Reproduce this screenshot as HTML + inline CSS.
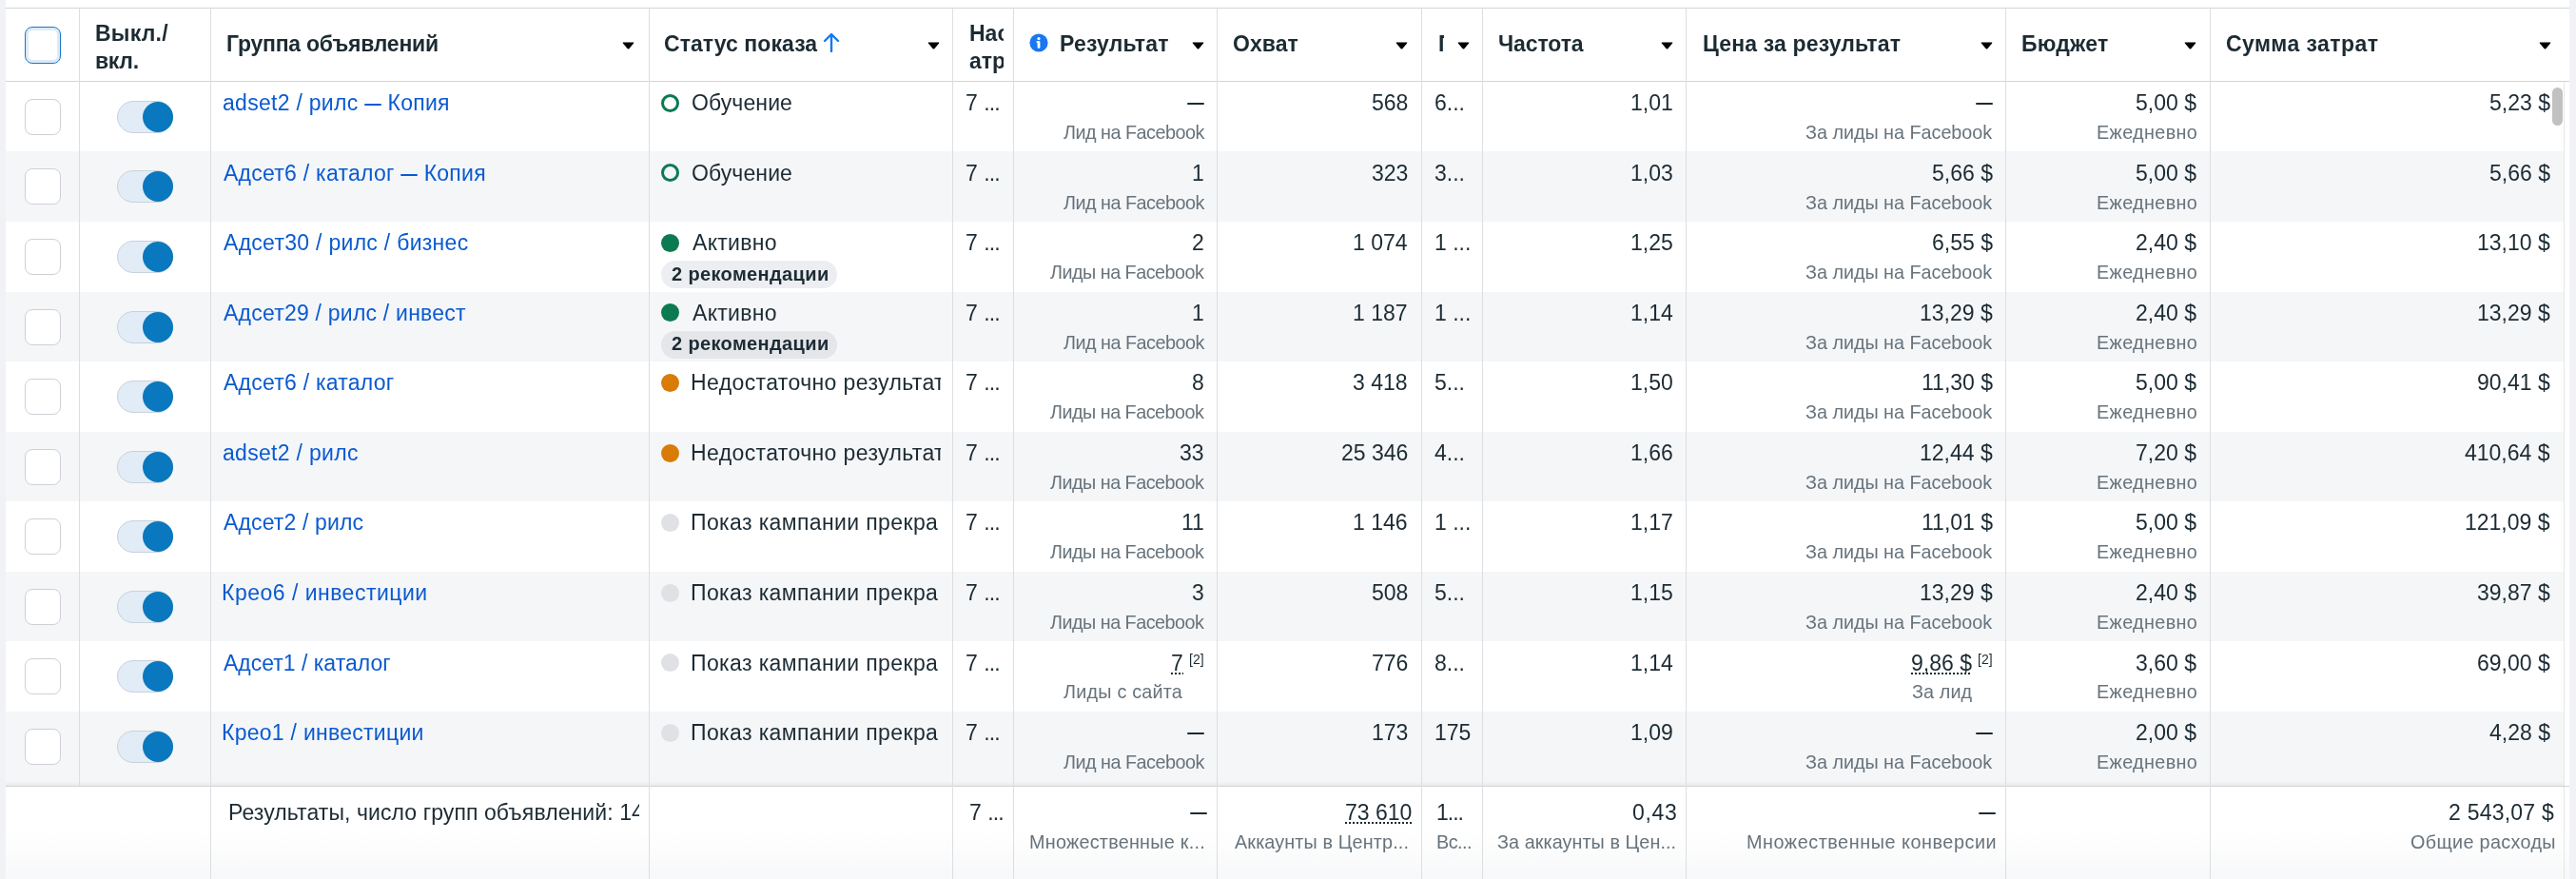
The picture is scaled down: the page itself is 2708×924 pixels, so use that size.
<!DOCTYPE html>
<html><head><meta charset="utf-8"><style>
html,body{margin:0;padding:0;}
body{width:2708px;height:924px;position:relative;overflow:hidden;background:#fff;font-family:"Liberation Sans", sans-serif;}
body>div,body>svg{position:absolute;}
.t{white-space:nowrap;will-change:transform;}
</style></head><body>
<div style="left:0px;top:0px;width:6px;height:924px;background:#f0f2f5;"></div>
<div style="left:2701px;top:0px;width:7px;height:924px;background:#f0f2f5;"></div>
<div style="left:6px;top:159px;width:2689px;height:74px;background:#f5f6f8;"></div>
<div style="left:6px;top:307px;width:2689px;height:73px;background:#f5f6f8;"></div>
<div style="left:6px;top:454px;width:2689px;height:73px;background:#f5f6f8;"></div>
<div style="left:6px;top:601px;width:2689px;height:73px;background:#f5f6f8;"></div>
<div style="left:6px;top:748px;width:2689px;height:78px;background:#f5f6f8;"></div>
<div style="left:6px;top:8px;width:2695px;height:1px;background:#d3d4d6;"></div>
<div style="left:6px;top:85px;width:2695px;height:1px;background:#d3d4d6;"></div>
<div style="left:6px;top:821px;width:2695px;height:5px;background:linear-gradient(rgba(0,0,0,0),rgba(0,0,0,0.05));"></div>
<div style="left:6px;top:826px;width:2695px;height:1px;background:#d3d4d6;"></div>
<div style="left:6px;top:872px;width:2695px;height:52px;background:linear-gradient(rgba(245,246,248,0),rgba(245,246,248,0.75));"></div>
<div style="left:83px;top:8px;width:1px;height:818px;background:#dcdee1;"></div>
<div style="left:221px;top:8px;width:1px;height:916px;background:#dcdee1;"></div>
<div style="left:682px;top:8px;width:1px;height:916px;background:#dcdee1;"></div>
<div style="left:1001px;top:8px;width:1px;height:916px;background:#dcdee1;"></div>
<div style="left:1065px;top:8px;width:1px;height:916px;background:#dcdee1;"></div>
<div style="left:1279px;top:8px;width:1px;height:916px;background:#dcdee1;"></div>
<div style="left:1494px;top:8px;width:1px;height:916px;background:#dcdee1;"></div>
<div style="left:1558px;top:8px;width:1px;height:916px;background:#dcdee1;"></div>
<div style="left:1772px;top:8px;width:1px;height:916px;background:#dcdee1;"></div>
<div style="left:2108px;top:8px;width:1px;height:916px;background:#dcdee1;"></div>
<div style="left:2323px;top:8px;width:1px;height:916px;background:#dcdee1;"></div>
<div style="left:2695px;top:86px;width:1px;height:740px;background:#e6e6e6;"></div>
<div style="left:2695px;top:827px;width:1px;height:97px;background:#e6e6e6;"></div>
<div style="left:2696px;top:86px;width:5px;height:740px;background:#fff;"></div>
<div style="left:2683px;top:92px;width:11px;height:40px;background:#c1c1c1;border-radius:6px;"></div>
<div style="left:26px;top:28px;width:38px;height:39px;box-sizing:border-box;border:1.8px solid #1a78c8;border-radius:8px;box-shadow:inset 0 0 0 3px #dde9f6;background:#fff;"></div>
<div class="t" style="top:22.18px;left:100.00px;font-size:23px;font-weight:700;color:#1c2b33;line-height:26.43px;letter-spacing:0.220px;">Выкл./</div>
<div class="t" style="top:50.69px;left:100.00px;font-size:23px;font-weight:700;color:#1c2b33;line-height:26.43px;letter-spacing:-0.300px;">вкл.</div>
<div class="t" style="top:33.19px;left:237.80px;font-size:23px;font-weight:700;color:#1c2b33;line-height:26.43px;letter-spacing:-0.238px;">Группа объявлений</div>
<svg style="left:654px;top:44px" width="13" height="8" viewBox="0 0 13 8"><path d="M1.2 0.5 H11.8 Q12.8 0.5 12.1 1.4 L7.3 7.2 Q6.5 8 5.7 7.2 L0.9 1.4 Q0.2 0.5 1.2 0.5Z" fill="#000"/></svg>
<div class="t" style="top:33.19px;left:698.20px;font-size:23px;font-weight:700;color:#1c2b33;line-height:26.43px;letter-spacing:0.067px;">Статус показа</div>
<svg style="left:865px;top:34px" width="18" height="21" viewBox="0 0 18 21"><path d="M9 20 V2.5 M2 9 L9 2 L16 9" stroke="#1877f2" stroke-width="2.4" fill="none" stroke-linecap="round" stroke-linejoin="round"/></svg>
<svg style="left:975px;top:44px" width="13" height="8" viewBox="0 0 13 8"><path d="M1.2 0.5 H11.8 Q12.8 0.5 12.1 1.4 L7.3 7.2 Q6.5 8 5.7 7.2 L0.9 1.4 Q0.2 0.5 1.2 0.5Z" fill="#000"/></svg>
<div class="t" style="top:22.18px;font-size:23px;font-weight:700;color:#1c2b33;line-height:26.43px;left:1019px;width:36px;overflow:hidden;">Настройка атрибуции</div>
<div class="t" style="top:50.69px;font-size:23px;font-weight:700;color:#1c2b33;line-height:26.43px;left:1019px;width:36px;overflow:hidden;">атрибуции</div>
<svg style="left:1082px;top:35px" width="20" height="20" viewBox="0 0 20 20"><circle cx="10" cy="10" r="9.6" fill="#1877f2"/><circle cx="10" cy="5.6" r="1.6" fill="#fff"/><rect x="8.6" y="8.2" width="2.8" height="7.6" rx="0.8" fill="#fff"/><rect x="7.6" y="8.2" width="2.8" height="1.8" fill="#fff"/></svg>
<div class="t" style="top:33.19px;left:1113.90px;font-size:23px;font-weight:700;color:#1c2b33;line-height:26.43px;letter-spacing:0.200px;">Результат</div>
<svg style="left:1253px;top:44px" width="13" height="8" viewBox="0 0 13 8"><path d="M1.2 0.5 H11.8 Q12.8 0.5 12.1 1.4 L7.3 7.2 Q6.5 8 5.7 7.2 L0.9 1.4 Q0.2 0.5 1.2 0.5Z" fill="#000"/></svg>
<div class="t" style="top:33.19px;left:1295.60px;font-size:23px;font-weight:700;color:#1c2b33;line-height:26.43px;letter-spacing:0.050px;">Охват</div>
<svg style="left:1467px;top:44px" width="13" height="8" viewBox="0 0 13 8"><path d="M1.2 0.5 H11.8 Q12.8 0.5 12.1 1.4 L7.3 7.2 Q6.5 8 5.7 7.2 L0.9 1.4 Q0.2 0.5 1.2 0.5Z" fill="#000"/></svg>
<div class="t" style="top:33.19px;font-size:23px;font-weight:700;color:#1c2b33;line-height:26.43px;left:1512px;width:6px;overflow:hidden;">Показы</div>
<svg style="left:1532px;top:44px" width="13" height="8" viewBox="0 0 13 8"><path d="M1.2 0.5 H11.8 Q12.8 0.5 12.1 1.4 L7.3 7.2 Q6.5 8 5.7 7.2 L0.9 1.4 Q0.2 0.5 1.2 0.5Z" fill="#000"/></svg>
<div class="t" style="top:33.19px;left:1574.90px;font-size:23px;font-weight:700;color:#1c2b33;line-height:26.43px;letter-spacing:-0.100px;">Частота</div>
<svg style="left:1746px;top:44px" width="13" height="8" viewBox="0 0 13 8"><path d="M1.2 0.5 H11.8 Q12.8 0.5 12.1 1.4 L7.3 7.2 Q6.5 8 5.7 7.2 L0.9 1.4 Q0.2 0.5 1.2 0.5Z" fill="#000"/></svg>
<div class="t" style="top:33.19px;left:1789.50px;font-size:23px;font-weight:700;color:#1c2b33;line-height:26.43px;letter-spacing:0.156px;">Цена за результат</div>
<svg style="left:2082px;top:44px" width="13" height="8" viewBox="0 0 13 8"><path d="M1.2 0.5 H11.8 Q12.8 0.5 12.1 1.4 L7.3 7.2 Q6.5 8 5.7 7.2 L0.9 1.4 Q0.2 0.5 1.2 0.5Z" fill="#000"/></svg>
<div class="t" style="top:33.19px;left:2125.00px;font-size:23px;font-weight:700;color:#1c2b33;line-height:26.43px;letter-spacing:0.200px;">Бюджет</div>
<svg style="left:2296px;top:44px" width="13" height="8" viewBox="0 0 13 8"><path d="M1.2 0.5 H11.8 Q12.8 0.5 12.1 1.4 L7.3 7.2 Q6.5 8 5.7 7.2 L0.9 1.4 Q0.2 0.5 1.2 0.5Z" fill="#000"/></svg>
<div class="t" style="top:33.19px;left:2339.70px;font-size:23px;font-weight:700;color:#1c2b33;line-height:26.43px;letter-spacing:0.418px;">Сумма затрат</div>
<svg style="left:2669px;top:44px" width="13" height="8" viewBox="0 0 13 8"><path d="M1.2 0.5 H11.8 Q12.8 0.5 12.1 1.4 L7.3 7.2 Q6.5 8 5.7 7.2 L0.9 1.4 Q0.2 0.5 1.2 0.5Z" fill="#000"/></svg>
<div style="left:26px;top:104px;width:38px;height:38px;box-sizing:border-box;border:1.5px solid #cdd1d6;border-radius:8px;background:#fff;"></div>
<div style="left:123px;top:106px;width:59px;height:34px;box-sizing:border-box;border:1px solid #c8d2dc;border-radius:17px;background:#e1ecf7;"></div>
<div style="left:150px;top:107px;width:32px;height:32px;border-radius:50%;background:#0a78be;"></div>
<div class="t" style="top:95.09px;left:234.40px;font-size:23px;font-weight:400;color:#0a5ad0;line-height:26.43px;letter-spacing:0.279px;">adset2 / рилс <span style="display:inline-block;width:17.7px;height:2.1px;background:currentColor;vertical-align:5.4px;border-radius:1px"></span> Копия</div>
<div style="left:695px;top:99px;width:19px;height:19px;box-sizing:border-box;border:3px solid #0b7a51;border-radius:50%;"></div>
<div class="t" style="top:95.09px;left:726.60px;font-size:23px;font-weight:400;color:#1c2b33;line-height:26.43px;letter-spacing:0.100px;">Обучение</div>
<div class="t" style="top:95.09px;font-size:23px;font-weight:400;color:#1c2b33;line-height:26.43px;left:1015.3px;">7 <span style="letter-spacing:-0.8px">...</span></div>
<div style="left:1248px;top:108px;width:18px;height:2px;background:#1c2b33;border-radius:1px;"></div>
<div class="t" style="top:127.98px;left:1118.00px;font-size:19.8px;font-weight:400;color:#67737c;line-height:22.75px;letter-spacing:-0.500px;">Лид на Facebook</div>
<div class="t" style="top:95.09px;font-size:23px;font-weight:400;color:#1c2b33;line-height:26.43px;right:1228px;text-align:right;">568</div>
<div class="t" style="top:95.09px;font-size:23px;font-weight:400;color:#1c2b33;line-height:26.43px;left:1508px;">6...</div>
<div class="t" style="top:95.09px;font-size:23px;font-weight:400;color:#1c2b33;line-height:26.43px;right:949.5px;text-align:right;">1,01</div>
<div style="left:2076.6px;top:108px;width:18px;height:2px;background:#1c2b33;border-radius:1px;"></div>
<div class="t" style="top:127.98px;left:1898.00px;font-size:19.8px;font-weight:400;color:#67737c;line-height:22.75px;letter-spacing:-0.022px;">За лиды на Facebook</div>
<div class="t" style="top:95.09px;font-size:23px;font-weight:400;color:#1c2b33;line-height:26.43px;right:399px;text-align:right;">5,00 $</div>
<div class="t" style="top:127.98px;left:2204.00px;font-size:19.8px;font-weight:400;color:#67737c;line-height:22.75px;letter-spacing:0.363px;">Ежедневно</div>
<div class="t" style="top:95.09px;font-size:23px;font-weight:400;color:#1c2b33;line-height:26.43px;right:27.300000000000182px;text-align:right;">5,23 $</div>
<div style="left:26px;top:177px;width:38px;height:38px;box-sizing:border-box;border:1.5px solid #cdd1d6;border-radius:8px;background:#fff;"></div>
<div style="left:123px;top:179px;width:59px;height:34px;box-sizing:border-box;border:1px solid #c8d2dc;border-radius:17px;background:#e1ecf7;"></div>
<div style="left:150px;top:180px;width:32px;height:32px;border-radius:50%;background:#0a78be;"></div>
<div class="t" style="top:168.65px;left:235.40px;font-size:23px;font-weight:400;color:#0a5ad0;line-height:26.43px;letter-spacing:0.255px;">Адсет6 / каталог <span style="display:inline-block;width:17.7px;height:2.1px;background:currentColor;vertical-align:5.4px;border-radius:1px"></span> Копия</div>
<div style="left:695px;top:172px;width:19px;height:19px;box-sizing:border-box;border:3px solid #0b7a51;border-radius:50%;"></div>
<div class="t" style="top:168.65px;left:726.60px;font-size:23px;font-weight:400;color:#1c2b33;line-height:26.43px;letter-spacing:0.100px;">Обучение</div>
<div class="t" style="top:168.65px;font-size:23px;font-weight:400;color:#1c2b33;line-height:26.43px;left:1015.3px;">7 <span style="letter-spacing:-0.8px">...</span></div>
<div class="t" style="top:168.65px;font-size:23px;font-weight:400;color:#1c2b33;line-height:26.43px;right:1442px;text-align:right;">1</div>
<div class="t" style="top:201.54px;left:1118.00px;font-size:19.8px;font-weight:400;color:#67737c;line-height:22.75px;letter-spacing:-0.500px;">Лид на Facebook</div>
<div class="t" style="top:168.65px;font-size:23px;font-weight:400;color:#1c2b33;line-height:26.43px;right:1228px;text-align:right;">323</div>
<div class="t" style="top:168.65px;font-size:23px;font-weight:400;color:#1c2b33;line-height:26.43px;left:1508px;">3...</div>
<div class="t" style="top:168.65px;font-size:23px;font-weight:400;color:#1c2b33;line-height:26.43px;right:949.5px;text-align:right;">1,03</div>
<div class="t" style="top:168.65px;font-size:23px;font-weight:400;color:#1c2b33;line-height:26.43px;right:613.4000000000001px;text-align:right;">5,66 $</div>
<div class="t" style="top:201.54px;left:1898.00px;font-size:19.8px;font-weight:400;color:#67737c;line-height:22.75px;letter-spacing:-0.022px;">За лиды на Facebook</div>
<div class="t" style="top:168.65px;font-size:23px;font-weight:400;color:#1c2b33;line-height:26.43px;right:399px;text-align:right;">5,00 $</div>
<div class="t" style="top:201.54px;left:2204.00px;font-size:19.8px;font-weight:400;color:#67737c;line-height:22.75px;letter-spacing:0.363px;">Ежедневно</div>
<div class="t" style="top:168.65px;font-size:23px;font-weight:400;color:#1c2b33;line-height:26.43px;right:27.300000000000182px;text-align:right;">5,66 $</div>
<div style="left:26px;top:251px;width:38px;height:38px;box-sizing:border-box;border:1.5px solid #cdd1d6;border-radius:8px;background:#fff;"></div>
<div style="left:123px;top:253px;width:59px;height:34px;box-sizing:border-box;border:1px solid #c8d2dc;border-radius:17px;background:#e1ecf7;"></div>
<div style="left:150px;top:254px;width:32px;height:32px;border-radius:50%;background:#0a78be;"></div>
<div class="t" style="top:242.20px;left:235.40px;font-size:23px;font-weight:400;color:#0a5ad0;line-height:26.43px;letter-spacing:0.286px;">Адсет30 / рилс / бизнес</div>
<div style="left:695px;top:246px;width:19px;height:19px;border-radius:50%;background:#0b7a51;"></div>
<div class="t" style="top:242.20px;left:727.60px;font-size:23px;font-weight:400;color:#1c2b33;line-height:26.43px;letter-spacing:0.300px;">Активно</div>
<div style="left:695px;top:274px;width:185px;height:29px;border-radius:15px;background:#eceef1;"></div>
<div class="t" style="top:276.92px;left:705.50px;font-size:20px;font-weight:700;color:#1c2b33;line-height:22.98px;letter-spacing:0.369px;">2 рекомендации</div>
<div class="t" style="top:242.20px;font-size:23px;font-weight:400;color:#1c2b33;line-height:26.43px;left:1015.3px;">7 <span style="letter-spacing:-0.8px">...</span></div>
<div class="t" style="top:242.20px;font-size:23px;font-weight:400;color:#1c2b33;line-height:26.43px;right:1442px;text-align:right;">2</div>
<div class="t" style="top:275.10px;left:1103.70px;font-size:19.8px;font-weight:400;color:#67737c;line-height:22.75px;letter-spacing:-0.513px;">Лиды на Facebook</div>
<div class="t" style="top:242.20px;font-size:23px;font-weight:400;color:#1c2b33;line-height:26.43px;right:1228px;text-align:right;">1 074</div>
<div class="t" style="top:242.20px;font-size:23px;font-weight:400;color:#1c2b33;line-height:26.43px;left:1508px;">1 ...</div>
<div class="t" style="top:242.20px;font-size:23px;font-weight:400;color:#1c2b33;line-height:26.43px;right:949.5px;text-align:right;">1,25</div>
<div class="t" style="top:242.20px;font-size:23px;font-weight:400;color:#1c2b33;line-height:26.43px;right:613.4000000000001px;text-align:right;">6,55 $</div>
<div class="t" style="top:275.10px;left:1898.00px;font-size:19.8px;font-weight:400;color:#67737c;line-height:22.75px;letter-spacing:-0.022px;">За лиды на Facebook</div>
<div class="t" style="top:242.20px;font-size:23px;font-weight:400;color:#1c2b33;line-height:26.43px;right:399px;text-align:right;">2,40 $</div>
<div class="t" style="top:275.10px;left:2204.00px;font-size:19.8px;font-weight:400;color:#67737c;line-height:22.75px;letter-spacing:0.363px;">Ежедневно</div>
<div class="t" style="top:242.20px;font-size:23px;font-weight:400;color:#1c2b33;line-height:26.43px;right:27.300000000000182px;text-align:right;">13,10 $</div>
<div style="left:26px;top:325px;width:38px;height:38px;box-sizing:border-box;border:1.5px solid #cdd1d6;border-radius:8px;background:#fff;"></div>
<div style="left:123px;top:327px;width:59px;height:34px;box-sizing:border-box;border:1px solid #c8d2dc;border-radius:17px;background:#e1ecf7;"></div>
<div style="left:150px;top:328px;width:32px;height:32px;border-radius:50%;background:#0a78be;"></div>
<div class="t" style="top:315.77px;left:235.40px;font-size:23px;font-weight:400;color:#0a5ad0;line-height:26.43px;letter-spacing:0.223px;">Адсет29 / рилс / инвест</div>
<div style="left:695px;top:319px;width:19px;height:19px;border-radius:50%;background:#0b7a51;"></div>
<div class="t" style="top:315.77px;left:727.60px;font-size:23px;font-weight:400;color:#1c2b33;line-height:26.43px;letter-spacing:0.300px;">Активно</div>
<div style="left:695px;top:348px;width:185px;height:29px;border-radius:15px;background:#e4e6ea;"></div>
<div class="t" style="top:350.48px;left:705.50px;font-size:20px;font-weight:700;color:#1c2b33;line-height:22.98px;letter-spacing:0.369px;">2 рекомендации</div>
<div class="t" style="top:315.77px;font-size:23px;font-weight:400;color:#1c2b33;line-height:26.43px;left:1015.3px;">7 <span style="letter-spacing:-0.8px">...</span></div>
<div class="t" style="top:315.77px;font-size:23px;font-weight:400;color:#1c2b33;line-height:26.43px;right:1442px;text-align:right;">1</div>
<div class="t" style="top:348.66px;left:1118.00px;font-size:19.8px;font-weight:400;color:#67737c;line-height:22.75px;letter-spacing:-0.500px;">Лид на Facebook</div>
<div class="t" style="top:315.77px;font-size:23px;font-weight:400;color:#1c2b33;line-height:26.43px;right:1228px;text-align:right;">1 187</div>
<div class="t" style="top:315.77px;font-size:23px;font-weight:400;color:#1c2b33;line-height:26.43px;left:1508px;">1 ...</div>
<div class="t" style="top:315.77px;font-size:23px;font-weight:400;color:#1c2b33;line-height:26.43px;right:949.5px;text-align:right;">1,14</div>
<div class="t" style="top:315.77px;font-size:23px;font-weight:400;color:#1c2b33;line-height:26.43px;right:613.4000000000001px;text-align:right;">13,29 $</div>
<div class="t" style="top:348.66px;left:1898.00px;font-size:19.8px;font-weight:400;color:#67737c;line-height:22.75px;letter-spacing:-0.022px;">За лиды на Facebook</div>
<div class="t" style="top:315.77px;font-size:23px;font-weight:400;color:#1c2b33;line-height:26.43px;right:399px;text-align:right;">2,40 $</div>
<div class="t" style="top:348.66px;left:2204.00px;font-size:19.8px;font-weight:400;color:#67737c;line-height:22.75px;letter-spacing:0.363px;">Ежедневно</div>
<div class="t" style="top:315.77px;font-size:23px;font-weight:400;color:#1c2b33;line-height:26.43px;right:27.300000000000182px;text-align:right;">13,29 $</div>
<div style="left:26px;top:398px;width:38px;height:38px;box-sizing:border-box;border:1.5px solid #cdd1d6;border-radius:8px;background:#fff;"></div>
<div style="left:123px;top:400px;width:59px;height:34px;box-sizing:border-box;border:1px solid #c8d2dc;border-radius:17px;background:#e1ecf7;"></div>
<div style="left:150px;top:401px;width:32px;height:32px;border-radius:50%;background:#0a78be;"></div>
<div class="t" style="top:389.32px;left:235.40px;font-size:23px;font-weight:400;color:#0a5ad0;line-height:26.43px;letter-spacing:0.240px;">Адсет6 / каталог</div>
<div style="left:695px;top:393px;width:19px;height:19px;border-radius:50%;background:#d97b07;"></div>
<div class="t" style="top:389.32px;left:725.60px;font-size:23px;font-weight:400;color:#1c2b33;line-height:26.43px;letter-spacing:0.380px;width:262.90px;overflow:hidden;">Недостаточно результатов</div>
<div class="t" style="top:389.32px;font-size:23px;font-weight:400;color:#1c2b33;line-height:26.43px;left:1015.3px;">7 <span style="letter-spacing:-0.8px">...</span></div>
<div class="t" style="top:389.32px;font-size:23px;font-weight:400;color:#1c2b33;line-height:26.43px;right:1442px;text-align:right;">8</div>
<div class="t" style="top:422.22px;left:1103.70px;font-size:19.8px;font-weight:400;color:#67737c;line-height:22.75px;letter-spacing:-0.513px;">Лиды на Facebook</div>
<div class="t" style="top:389.32px;font-size:23px;font-weight:400;color:#1c2b33;line-height:26.43px;right:1228px;text-align:right;">3 418</div>
<div class="t" style="top:389.32px;font-size:23px;font-weight:400;color:#1c2b33;line-height:26.43px;left:1508px;">5...</div>
<div class="t" style="top:389.32px;font-size:23px;font-weight:400;color:#1c2b33;line-height:26.43px;right:949.5px;text-align:right;">1,50</div>
<div class="t" style="top:389.32px;font-size:23px;font-weight:400;color:#1c2b33;line-height:26.43px;right:613.4000000000001px;text-align:right;">11,30 $</div>
<div class="t" style="top:422.22px;left:1898.00px;font-size:19.8px;font-weight:400;color:#67737c;line-height:22.75px;letter-spacing:-0.022px;">За лиды на Facebook</div>
<div class="t" style="top:389.32px;font-size:23px;font-weight:400;color:#1c2b33;line-height:26.43px;right:399px;text-align:right;">5,00 $</div>
<div class="t" style="top:422.22px;left:2204.00px;font-size:19.8px;font-weight:400;color:#67737c;line-height:22.75px;letter-spacing:0.363px;">Ежедневно</div>
<div class="t" style="top:389.32px;font-size:23px;font-weight:400;color:#1c2b33;line-height:26.43px;right:27.300000000000182px;text-align:right;">90,41 $</div>
<div style="left:26px;top:472px;width:38px;height:38px;box-sizing:border-box;border:1.5px solid #cdd1d6;border-radius:8px;background:#fff;"></div>
<div style="left:123px;top:474px;width:59px;height:34px;box-sizing:border-box;border:1px solid #c8d2dc;border-radius:17px;background:#e1ecf7;"></div>
<div style="left:150px;top:475px;width:32px;height:32px;border-radius:50%;background:#0a78be;"></div>
<div class="t" style="top:462.89px;left:234.40px;font-size:23px;font-weight:400;color:#0a5ad0;line-height:26.43px;letter-spacing:0.300px;">adset2 / рилс</div>
<div style="left:695px;top:467px;width:19px;height:19px;border-radius:50%;background:#d97b07;"></div>
<div class="t" style="top:462.89px;left:725.60px;font-size:23px;font-weight:400;color:#1c2b33;line-height:26.43px;letter-spacing:0.380px;width:262.90px;overflow:hidden;">Недостаточно результатов</div>
<div class="t" style="top:462.89px;font-size:23px;font-weight:400;color:#1c2b33;line-height:26.43px;left:1015.3px;">7 <span style="letter-spacing:-0.8px">...</span></div>
<div class="t" style="top:462.89px;font-size:23px;font-weight:400;color:#1c2b33;line-height:26.43px;right:1442px;text-align:right;">33</div>
<div class="t" style="top:495.78px;left:1103.70px;font-size:19.8px;font-weight:400;color:#67737c;line-height:22.75px;letter-spacing:-0.513px;">Лиды на Facebook</div>
<div class="t" style="top:462.89px;font-size:23px;font-weight:400;color:#1c2b33;line-height:26.43px;right:1228px;text-align:right;">25 346</div>
<div class="t" style="top:462.89px;font-size:23px;font-weight:400;color:#1c2b33;line-height:26.43px;left:1508px;">4...</div>
<div class="t" style="top:462.89px;font-size:23px;font-weight:400;color:#1c2b33;line-height:26.43px;right:949.5px;text-align:right;">1,66</div>
<div class="t" style="top:462.89px;font-size:23px;font-weight:400;color:#1c2b33;line-height:26.43px;right:613.4000000000001px;text-align:right;">12,44 $</div>
<div class="t" style="top:495.78px;left:1898.00px;font-size:19.8px;font-weight:400;color:#67737c;line-height:22.75px;letter-spacing:-0.022px;">За лиды на Facebook</div>
<div class="t" style="top:462.89px;font-size:23px;font-weight:400;color:#1c2b33;line-height:26.43px;right:399px;text-align:right;">7,20 $</div>
<div class="t" style="top:495.78px;left:2204.00px;font-size:19.8px;font-weight:400;color:#67737c;line-height:22.75px;letter-spacing:0.363px;">Ежедневно</div>
<div class="t" style="top:462.89px;font-size:23px;font-weight:400;color:#1c2b33;line-height:26.43px;right:27.300000000000182px;text-align:right;">410,64 $</div>
<div style="left:26px;top:545px;width:38px;height:38px;box-sizing:border-box;border:1.5px solid #cdd1d6;border-radius:8px;background:#fff;"></div>
<div style="left:123px;top:547px;width:59px;height:34px;box-sizing:border-box;border:1px solid #c8d2dc;border-radius:17px;background:#e1ecf7;"></div>
<div style="left:150px;top:548px;width:32px;height:32px;border-radius:50%;background:#0a78be;"></div>
<div class="t" style="top:536.44px;left:235.40px;font-size:23px;font-weight:400;color:#0a5ad0;line-height:26.43px;letter-spacing:0.142px;">Адсет2 / рилс</div>
<div style="left:695px;top:540px;width:19px;height:19px;border-radius:50%;background:#dfe1e5;"></div>
<div class="t" style="top:536.44px;left:725.60px;font-size:23px;font-weight:400;color:#1c2b33;line-height:26.43px;letter-spacing:0.380px;width:261.40px;overflow:hidden;">Показ кампании прекращен</div>
<div class="t" style="top:536.44px;font-size:23px;font-weight:400;color:#1c2b33;line-height:26.43px;left:1015.3px;">7 <span style="letter-spacing:-0.8px">...</span></div>
<div class="t" style="top:536.44px;font-size:23px;font-weight:400;color:#1c2b33;line-height:26.43px;right:1442px;text-align:right;">11</div>
<div class="t" style="top:569.34px;left:1103.70px;font-size:19.8px;font-weight:400;color:#67737c;line-height:22.75px;letter-spacing:-0.513px;">Лиды на Facebook</div>
<div class="t" style="top:536.44px;font-size:23px;font-weight:400;color:#1c2b33;line-height:26.43px;right:1228px;text-align:right;">1 146</div>
<div class="t" style="top:536.44px;font-size:23px;font-weight:400;color:#1c2b33;line-height:26.43px;left:1508px;">1 ...</div>
<div class="t" style="top:536.44px;font-size:23px;font-weight:400;color:#1c2b33;line-height:26.43px;right:949.5px;text-align:right;">1,17</div>
<div class="t" style="top:536.44px;font-size:23px;font-weight:400;color:#1c2b33;line-height:26.43px;right:613.4000000000001px;text-align:right;">11,01 $</div>
<div class="t" style="top:569.34px;left:1898.00px;font-size:19.8px;font-weight:400;color:#67737c;line-height:22.75px;letter-spacing:-0.022px;">За лиды на Facebook</div>
<div class="t" style="top:536.44px;font-size:23px;font-weight:400;color:#1c2b33;line-height:26.43px;right:399px;text-align:right;">5,00 $</div>
<div class="t" style="top:569.34px;left:2204.00px;font-size:19.8px;font-weight:400;color:#67737c;line-height:22.75px;letter-spacing:0.363px;">Ежедневно</div>
<div class="t" style="top:536.44px;font-size:23px;font-weight:400;color:#1c2b33;line-height:26.43px;right:27.300000000000182px;text-align:right;">121,09 $</div>
<div style="left:26px;top:619px;width:38px;height:38px;box-sizing:border-box;border:1.5px solid #cdd1d6;border-radius:8px;background:#fff;"></div>
<div style="left:123px;top:621px;width:59px;height:34px;box-sizing:border-box;border:1px solid #c8d2dc;border-radius:17px;background:#e1ecf7;"></div>
<div style="left:150px;top:622px;width:32px;height:32px;border-radius:50%;background:#0a78be;"></div>
<div class="t" style="top:610.00px;left:233.40px;font-size:23px;font-weight:400;color:#0a5ad0;line-height:26.43px;letter-spacing:0.488px;">Крео6 / инвестиции</div>
<div style="left:695px;top:614px;width:19px;height:19px;border-radius:50%;background:#dfe1e5;"></div>
<div class="t" style="top:610.00px;left:725.60px;font-size:23px;font-weight:400;color:#1c2b33;line-height:26.43px;letter-spacing:0.380px;width:261.40px;overflow:hidden;">Показ кампании прекращен</div>
<div class="t" style="top:610.00px;font-size:23px;font-weight:400;color:#1c2b33;line-height:26.43px;left:1015.3px;">7 <span style="letter-spacing:-0.8px">...</span></div>
<div class="t" style="top:610.00px;font-size:23px;font-weight:400;color:#1c2b33;line-height:26.43px;right:1442px;text-align:right;">3</div>
<div class="t" style="top:642.90px;left:1103.70px;font-size:19.8px;font-weight:400;color:#67737c;line-height:22.75px;letter-spacing:-0.513px;">Лиды на Facebook</div>
<div class="t" style="top:610.00px;font-size:23px;font-weight:400;color:#1c2b33;line-height:26.43px;right:1228px;text-align:right;">508</div>
<div class="t" style="top:610.00px;font-size:23px;font-weight:400;color:#1c2b33;line-height:26.43px;left:1508px;">5...</div>
<div class="t" style="top:610.00px;font-size:23px;font-weight:400;color:#1c2b33;line-height:26.43px;right:949.5px;text-align:right;">1,15</div>
<div class="t" style="top:610.00px;font-size:23px;font-weight:400;color:#1c2b33;line-height:26.43px;right:613.4000000000001px;text-align:right;">13,29 $</div>
<div class="t" style="top:642.90px;left:1898.00px;font-size:19.8px;font-weight:400;color:#67737c;line-height:22.75px;letter-spacing:-0.022px;">За лиды на Facebook</div>
<div class="t" style="top:610.00px;font-size:23px;font-weight:400;color:#1c2b33;line-height:26.43px;right:399px;text-align:right;">2,40 $</div>
<div class="t" style="top:642.90px;left:2204.00px;font-size:19.8px;font-weight:400;color:#67737c;line-height:22.75px;letter-spacing:0.363px;">Ежедневно</div>
<div class="t" style="top:610.00px;font-size:23px;font-weight:400;color:#1c2b33;line-height:26.43px;right:27.300000000000182px;text-align:right;">39,87 $</div>
<div style="left:26px;top:692px;width:38px;height:38px;box-sizing:border-box;border:1.5px solid #cdd1d6;border-radius:8px;background:#fff;"></div>
<div style="left:123px;top:694px;width:59px;height:34px;box-sizing:border-box;border:1px solid #c8d2dc;border-radius:17px;background:#e1ecf7;"></div>
<div style="left:150px;top:695px;width:32px;height:32px;border-radius:50%;background:#0a78be;"></div>
<div class="t" style="top:683.56px;left:235.40px;font-size:23px;font-weight:400;color:#0a5ad0;line-height:26.43px;letter-spacing:-0.000px;">Адсет1 / каталог</div>
<div style="left:695px;top:687px;width:19px;height:19px;border-radius:50%;background:#dfe1e5;"></div>
<div class="t" style="top:683.56px;left:725.60px;font-size:23px;font-weight:400;color:#1c2b33;line-height:26.43px;letter-spacing:0.380px;width:261.40px;overflow:hidden;">Показ кампании прекращен</div>
<div class="t" style="top:683.56px;font-size:23px;font-weight:400;color:#1c2b33;line-height:26.43px;left:1015.3px;">7 <span style="letter-spacing:-0.8px">...</span></div>
<div class="t" style="top:683.56px;font-size:23px;font-weight:400;color:#1c2b33;line-height:26.43px;right:1464px;text-align:right;"><span style="position:relative">7<span style="position:absolute;left:0;right:0;bottom:1px;height:2px;background:repeating-linear-gradient(90deg,#1c2b33 0 2px,transparent 2px 4px)"></span></span></div>
<div class="t" style="top:684.71px;font-size:14px;font-weight:400;color:#1c2b33;line-height:16.09px;right:1442px;text-align:right;">[2]</div>
<div class="t" style="top:716.46px;left:1118.00px;font-size:19.8px;font-weight:400;color:#67737c;line-height:22.75px;letter-spacing:0.218px;">Лиды с сайта</div>
<div class="t" style="top:683.56px;font-size:23px;font-weight:400;color:#1c2b33;line-height:26.43px;right:1228px;text-align:right;">776</div>
<div class="t" style="top:683.56px;font-size:23px;font-weight:400;color:#1c2b33;line-height:26.43px;left:1508px;">8...</div>
<div class="t" style="top:683.56px;font-size:23px;font-weight:400;color:#1c2b33;line-height:26.43px;right:949.5px;text-align:right;">1,14</div>
<div class="t" style="top:683.56px;font-size:23px;font-weight:400;color:#1c2b33;line-height:26.43px;right:635.5px;text-align:right;"><span style="position:relative">9,86 $<span style="position:absolute;left:0;right:0;bottom:1px;height:2px;background:repeating-linear-gradient(90deg,#1c2b33 0 2px,transparent 2px 4px)"></span></span></div>
<div class="t" style="top:684.71px;font-size:14px;font-weight:400;color:#1c2b33;line-height:16.09px;right:613.4000000000001px;text-align:right;">[2]</div>
<div class="t" style="top:716.46px;left:2010.00px;font-size:19.8px;font-weight:400;color:#67737c;line-height:22.75px;letter-spacing:0.100px;">За лид</div>
<div class="t" style="top:683.56px;font-size:23px;font-weight:400;color:#1c2b33;line-height:26.43px;right:399px;text-align:right;">3,60 $</div>
<div class="t" style="top:716.46px;left:2204.00px;font-size:19.8px;font-weight:400;color:#67737c;line-height:22.75px;letter-spacing:0.363px;">Ежедневно</div>
<div class="t" style="top:683.56px;font-size:23px;font-weight:400;color:#1c2b33;line-height:26.43px;right:27.300000000000182px;text-align:right;">69,00 $</div>
<div style="left:26px;top:766px;width:38px;height:38px;box-sizing:border-box;border:1.5px solid #cdd1d6;border-radius:8px;background:#fff;"></div>
<div style="left:123px;top:768px;width:59px;height:34px;box-sizing:border-box;border:1px solid #c8d2dc;border-radius:17px;background:#e1ecf7;"></div>
<div style="left:150px;top:769px;width:32px;height:32px;border-radius:50%;background:#0a78be;"></div>
<div class="t" style="top:757.12px;left:233.40px;font-size:23px;font-weight:400;color:#0a5ad0;line-height:26.43px;letter-spacing:0.271px;">Крео1 / инвестиции</div>
<div style="left:695px;top:761px;width:19px;height:19px;border-radius:50%;background:#dfe1e5;"></div>
<div class="t" style="top:757.12px;left:725.60px;font-size:23px;font-weight:400;color:#1c2b33;line-height:26.43px;letter-spacing:0.380px;width:261.40px;overflow:hidden;">Показ кампании прекращен</div>
<div class="t" style="top:757.12px;font-size:23px;font-weight:400;color:#1c2b33;line-height:26.43px;left:1015.3px;">7 <span style="letter-spacing:-0.8px">...</span></div>
<div style="left:1248px;top:770px;width:18px;height:2px;background:#1c2b33;border-radius:1px;"></div>
<div class="t" style="top:790.02px;left:1118.00px;font-size:19.8px;font-weight:400;color:#67737c;line-height:22.75px;letter-spacing:-0.500px;">Лид на Facebook</div>
<div class="t" style="top:757.12px;font-size:23px;font-weight:400;color:#1c2b33;line-height:26.43px;right:1228px;text-align:right;">173</div>
<div class="t" style="top:757.12px;font-size:23px;font-weight:400;color:#1c2b33;line-height:26.43px;left:1508px;">175</div>
<div class="t" style="top:757.12px;font-size:23px;font-weight:400;color:#1c2b33;line-height:26.43px;right:949.5px;text-align:right;">1,09</div>
<div style="left:2076.6px;top:770px;width:18px;height:2px;background:#1c2b33;border-radius:1px;"></div>
<div class="t" style="top:790.02px;left:1898.00px;font-size:19.8px;font-weight:400;color:#67737c;line-height:22.75px;letter-spacing:-0.022px;">За лиды на Facebook</div>
<div class="t" style="top:757.12px;font-size:23px;font-weight:400;color:#1c2b33;line-height:26.43px;right:399px;text-align:right;">2,00 $</div>
<div class="t" style="top:790.02px;left:2204.00px;font-size:19.8px;font-weight:400;color:#67737c;line-height:22.75px;letter-spacing:0.363px;">Ежедневно</div>
<div class="t" style="top:757.12px;font-size:23px;font-weight:400;color:#1c2b33;line-height:26.43px;right:27.300000000000182px;text-align:right;">4,28 $</div>
<div class="t" style="top:841.18px;left:239.80px;font-size:23px;font-weight:400;color:#1c2b33;line-height:26.43px;letter-spacing:0.090px;width:432.20px;overflow:hidden;">Результаты, число групп объявлений: 14</div>
<div class="t" style="top:841.18px;font-size:23px;font-weight:400;color:#1c2b33;line-height:26.43px;left:1018.6px;">7 <span style="letter-spacing:-0.8px">...</span></div>
<div style="left:1251px;top:854px;width:18px;height:2px;background:#1c2b33;border-radius:1px;"></div>
<div class="t" style="top:874.08px;left:1081.50px;font-size:19.8px;font-weight:400;color:#67737c;line-height:22.75px;letter-spacing:0.253px;">Множественные к...</div>
<div class="t" style="top:841.18px;font-size:23px;font-weight:400;color:#1c2b33;line-height:26.43px;right:1224px;text-align:right;"><span style="position:relative">73 610<span style="position:absolute;left:0;right:0;bottom:1px;height:2px;background:repeating-linear-gradient(90deg,#1c2b33 0 2px,transparent 2px 4px)"></span></span></div>
<div class="t" style="top:874.08px;left:1297.50px;font-size:19.8px;font-weight:400;color:#67737c;line-height:22.75px;letter-spacing:0.139px;">Аккаунты в Центр...</div>
<div class="t" style="top:841.18px;left:1510.00px;font-size:23px;font-weight:400;color:#1c2b33;line-height:26.43px;letter-spacing:-1.000px;">1...</div>
<div class="t" style="top:874.08px;left:1510.00px;font-size:19.8px;font-weight:400;color:#67737c;line-height:22.75px;letter-spacing:-0.500px;">Вс...</div>
<div class="t" style="top:841.18px;left:1715.70px;font-size:23px;font-weight:400;color:#1c2b33;line-height:26.43px;letter-spacing:0.667px;">0,43</div>
<div class="t" style="top:874.08px;left:1574.40px;font-size:19.8px;font-weight:400;color:#67737c;line-height:22.75px;letter-spacing:0.074px;">За аккаунты в Цен...</div>
<div style="left:2080px;top:854px;width:18px;height:2px;background:#1c2b33;border-radius:1px;"></div>
<div class="t" style="top:874.08px;left:1836.40px;font-size:19.8px;font-weight:400;color:#67737c;line-height:22.75px;letter-spacing:0.559px;">Множественные конверсии</div>
<div class="t" style="top:841.18px;left:2573.80px;font-size:23px;font-weight:400;color:#1c2b33;line-height:26.43px;letter-spacing:0.222px;">2 543,07 $</div>
<div class="t" style="top:874.08px;left:2533.70px;font-size:19.8px;font-weight:400;color:#67737c;line-height:22.75px;letter-spacing:0.342px;">Общие расходы</div>
</body></html>
